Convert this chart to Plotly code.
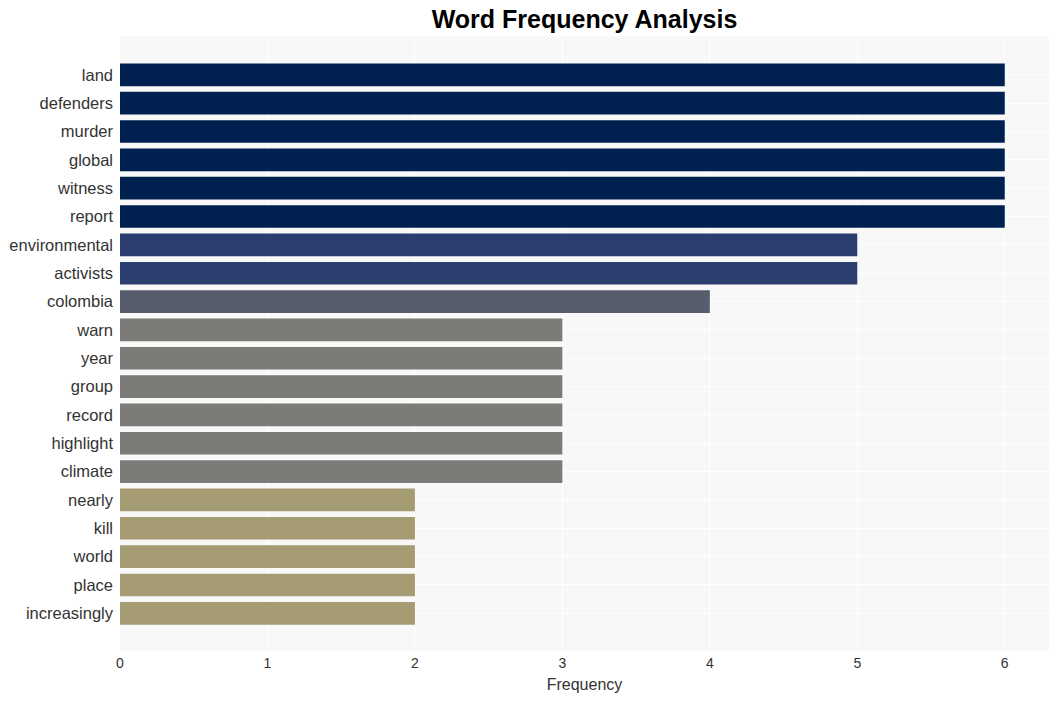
import plotly.graph_objects as go

words = ["land", "defenders", "murder", "global", "witness", "report",
         "environmental", "activists", "colombia", "warn", "year", "group",
         "record", "highlight", "climate", "nearly", "kill", "world", "place",
         "increasingly"]
freqs = [6, 6, 6, 6, 6, 6, 5, 5, 4, 3, 3, 3, 3, 3, 3, 2, 2, 2, 2, 2]
color_map = {6: "#00214f", 5: "#2c3e6f", 4: "#575d6d", 3: "#7c7b78", 2: "#a59c74"}
colors = [color_map[f] for f in freqs]

fig = go.Figure(go.Bar(
    x=freqs, y=words, orientation="h",
    marker=dict(color=colors, line=dict(width=0)),
    width=0.8,
))

fig.update_layout(
    width=1059, height=701,
    margin=dict(l=120, r=10, t=36, b=50),
    paper_bgcolor="white",
    plot_bgcolor="#f8f8f8",
    font=dict(family="Liberation Sans, Arial, sans-serif", color="#333333"),
    title=dict(text="<b>Word Frequency Analysis</b>", x=0.5, xref="paper",
               xanchor="center", y=0.972, yref="container", yanchor="middle",
               font=dict(size=25, color="black")),
    showlegend=False,
    bargap=0.2,
)
fig.update_xaxes(range=[0, 6.3], tickvals=[0, 1, 2, 3, 4, 5, 6],
                 showgrid=True, gridcolor="white", gridwidth=1,
                 zeroline=False, tickfont=dict(size=14), ticklabelstandoff=2,
                 title=dict(text="Frequency", font=dict(size=16), standoff=8))
fig.update_yaxes(categoryorder="array", categoryarray=words,
                 range=[20.33, -1.37], showgrid=True, gridcolor="white",
                 gridwidth=1, tickfont=dict(size=16.5), ticks="",
                 ticklabelstandoff=6)

fig.write_html("out.html")
